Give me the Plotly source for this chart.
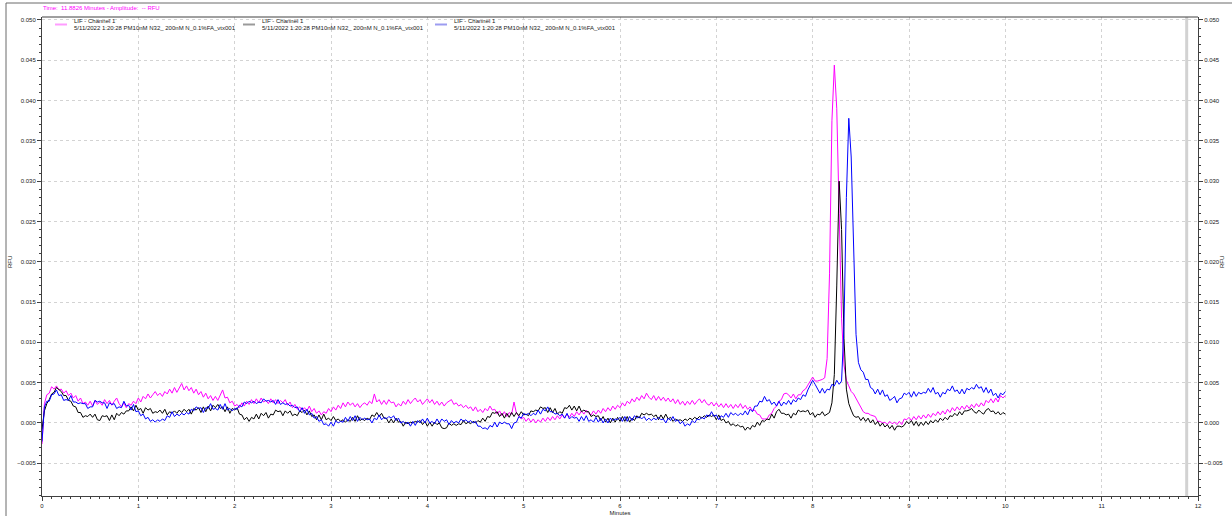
import numpy as np
import plotly.graph_objects as go

# Detector sampling: one reading every 0.025 min, 0 to 10 min
SAMPLE_STEP_MIN = 0.025
minutes = np.round(np.arange(401) * SAMPLE_STEP_MIN, 3)

# LIF - Channel 1 traces, values in milli-RFU (20 readings per row = 0.5 min)
magenta_mrfu = [
    -2.6, 2.4, 3.5, 3.7, 4.5, 4.2, 4.6, 4.1, 4.2, 3.7, 4.0, 3.4, 3.7, 3.1, 3.4, 2.7, 3.1, 2.4, 2.6, 2.2,
    2.7, 2.1, 2.8, 2.3, 2.6, 2.2, 2.9, 2.4, 2.8, 2.2, 2.7, 3.1, 2.4, 2.0, 2.5, 1.9, 2.4, 2.2, 2.7, 2.4,
    3.1, 2.6, 3.3, 3.0, 3.6, 3.1, 3.5, 3.9, 3.4, 3.7, 3.3, 3.9, 3.6, 4.2, 3.7, 4.4, 3.8, 4.3, 4.9, 4.1,
    4.6, 4.0, 4.4, 3.7, 4.2, 3.5, 3.9, 3.2, 3.7, 3.0, 3.4, 2.8, 3.3, 2.8, 3.4, 4.1, 3.1, 3.2, 2.5, 2.7,
    2.1, 2.3, 1.9, 2.5, 2.1, 2.7, 2.3, 2.9, 2.4, 3.0, 2.5, 3.1, 2.6, 2.8, 2.4, 3.0, 2.5, 2.9, 2.4, 2.8,
    2.5, 2.9, 2.2, 2.6, 1.9, 2.3, 1.7, 2.0, 1.6, 1.9, 1.5, 2.1, 1.4, 1.8, 1.2, 1.5, 1.0, 1.4, 1.2, 1.8,
    1.4, 2.0, 1.6, 2.2, 1.8, 2.5, 2.0, 2.6, 2.2, 2.5, 2.0, 2.4, 1.9, 2.3, 2.5, 2.2, 2.7, 2.4, 3.6, 2.6,
    2.9, 2.3, 2.8, 2.3, 2.9, 2.5, 2.6, 2.0, 2.4, 2.1, 2.7, 2.3, 2.9, 2.4, 2.8, 3.1, 2.6, 2.9, 2.3, 2.7,
    3.0, 2.5, 2.9, 2.3, 2.7, 2.2, 2.6, 2.1, 2.5, 2.7, 2.9, 2.3, 2.5, 2.1, 2.3, 1.9, 2.2, 1.8, 2.0, 1.5,
    2.0, 1.4, 1.7, 1.3, 1.8, 1.5, 2.1, 1.6, 1.7, 1.1, 1.5, 0.9, 1.4, 0.8, 1.3, 1.1, 2.6, 1.2, 0.9, 0.5,
    0.7, 0.2, 0.6, 0.1, 0.5, 0.0, 0.4, 0.1, 0.6, 0.2, 0.7, 0.3, 0.8, 0.4, 0.9, 0.5, 1.0, 0.6, 1.1, 0.7,
    1.2, 0.8, 1.4, 1.0, 1.5, 1.1, 1.6, 1.2, 1.0, 1.5, 1.1, 1.6, 1.2, 1.8, 1.4, 1.9, 1.5, 2.1, 1.7, 2.2,
    1.9, 2.5, 2.1, 2.7, 2.4, 3.0, 2.6, 3.2, 2.8, 3.4, 3.0, 3.7, 3.2, 2.9, 3.4, 2.8, 3.3, 2.8, 3.2, 2.7,
    3.1, 2.6, 3.0, 2.4, 2.9, 2.3, 2.7, 2.2, 2.7, 2.3, 2.8, 2.3, 2.7, 3.0, 2.5, 2.9, 2.4, 2.2, 2.6, 2.1,
    2.5, 2.0, 2.4, 1.9, 2.4, 1.9, 2.3, 1.8, 2.3, 1.9, 2.4, 1.8, 2.2, 1.7, 2.0, 1.5, 1.6, 1.1, 1.0, 0.5,
    0.5, 0.5, 1.0, 1.2, 1.8, 2.1, 2.7, 2.9, 3.6, 3.7, 3.5, 3.1, 3.6, 3.0, 3.5, 3.5, 4.0, 4.2, 4.7, 5.2,
    5.7, 5.2, 5.2, 5.3, 5.4, 5.6, 8.0, 18.5, 37.5, 44.4, 39.0, 26.0, 13.0, 7.2, 5.3, 4.6, 3.9, 3.6, 3.0, 2.6,
    2.0, 1.4, 1.2, 1.2, 1.0, 0.9, 0.8, 0.2, 0.2, 0.0, 0.1, -0.2, 0.2, -0.1, 0.1, -0.2, 0.2, -0.2, 0.5, 0.4,
    0.7, 0.3, 0.8, 0.4, 0.9, 0.5, 1.0, 0.6, 1.1, 0.7, 1.2, 0.9, 1.4, 1.0, 1.5, 1.1, 1.7, 1.3, 1.9, 1.5,
    2.0, 1.6, 2.1, 1.7, 2.2, 1.8, 2.3, 1.9, 2.4, 2.0, 2.5, 2.1, 2.8, 2.5, 3.0, 2.5, 3.1, 2.6, 3.4, 3.1,
    3.4,
]

black_mrfu = [
    -0.8, 1.5, 2.4, 2.9, 3.6, 3.8, 4.4, 4.2, 3.9, 3.4, 3.4, 2.8, 2.7, 2.1, 2.0, 1.3, 1.3, 0.7, 0.9, 0.8,
    1.1, 0.7, 1.1, 0.4, 0.3, 0.9, 0.8, 0.9, 0.3, 1.0, 0.4, 1.2, 0.9, 1.3, 1.1, 1.5, 1.5, 2.0, 1.5, 2.2,
    1.6, 1.8, 1.2, 1.9, 1.6, 1.8, 1.2, 1.4, 1.3, 1.6, 1.2, 1.7, 1.0, 1.4, 1.2, 1.5, 1.2, 1.6, 1.3, 1.7,
    1.4, 1.7, 1.1, 1.8, 1.6, 1.9, 1.3, 2.0, 1.4, 2.1, 1.5, 2.2, 1.9, 2.3, 1.8, 2.0, 1.4, 2.0, 1.2, 1.8,
    1.6, 1.9, 1.1, 1.0, 0.4, 0.7, 0.2, 0.7, 0.5, 1.1, 0.5, 1.2, 0.9, 1.3, 0.6, 1.1, 1.0, 1.6, 1.4, 1.5,
    0.9, 1.5, 1.2, 1.5, 0.9, 1.1, 0.9, 1.5, 1.3, 1.6, 1.0, 1.5, 0.8, 1.0, 0.4, 1.0, 0.4, 1.1, 0.4, 0.6,
    0.3, 0.8, 0.3, 0.5, 0.2, 0.4, 0.1, 0.4, 0.2, 0.7, 0.2, 0.9, 0.3, 0.5, 0.3, 0.6, 0.4, 1.0, 0.8, 1.3,
    0.8, 1.2, 0.6, 0.6, 0.0, 0.5, 0.0, 0.6, 0.1, 0.2, -0.4, 0.1, -0.1, 0.1, 0.0, 0.2, 0.1, 0.3, -0.2, 0.2,
    -0.4, 0.1, -0.4, 0.1, -0.2, 0.0, -0.6, -0.7, -0.6, 0.0, -0.3, -0.1, -0.3, -0.1, -0.2, 0.3, -0.1, 0.1, -0.1, 0.2,
    0.0, 0.3, 0.1, 0.6, 0.2, 0.8, 0.7, 1.3, 1.2, 1.4, 0.8, 1.2, 0.6, 1.2, 0.7, 1.3, 0.8, 1.3, 0.9, 1.4,
    1.0, 1.1, 0.9, 1.5, 1.4, 1.6, 1.5, 2.0, 1.8, 1.9, 1.3, 1.9, 1.3, 1.8, 1.1, 1.4, 1.2, 1.9, 1.8, 2.2,
    1.6, 2.1, 1.5, 2.1, 1.4, 1.6, 1.4, 1.4, 0.8, 1.0, 0.8, 0.9, 0.3, 0.8, 0.1, 0.6, 0.0, 0.6, 0.1, 0.7,
    0.2, 0.8, 0.2, 0.8, 0.1, 0.6, 0.3, 0.9, 0.6, 1.2, 1.0, 1.2, 1.0, 1.1, 0.8, 1.0, 0.4, 1.0, 0.5, 1.1,
    0.5, 0.7, 0.2, 0.5, 0.3, 0.4, 0.2, 0.5, 0.3, 0.6, 0.4, 0.7, 0.5, 0.8, 0.6, 0.9, 0.7, 1.0, 0.8, 1.0,
    0.4, 1.0, 0.3, 0.5, 0.0, 0.2, -0.3, -0.1, -0.4, -0.2, -0.5, -0.4, -0.9, -0.5, -0.8, -0.3, -0.5, 0.1, -0.3, 0.3,
    0.2, 0.5, 0.4, 1.1, 0.6, 1.4, 1.7, 1.2, 1.2, 1.0, 1.1, 0.6, 1.2, 1.0, 1.6, 1.4, 1.5, 1.4, 1.6, 1.0,
    1.3, 0.7, 1.1, 1.0, 1.4, 0.9, 1.1, 1.3, 2.5, 6.0, 17.0, 30.0, 24.0, 10.5, 4.2, 2.4, 1.6, 0.9, 0.7, 0.8,
    0.3, 0.7, 0.2, 0.6, 0.0, 0.4, -0.2, 0.2, -0.4, 0.0, -0.5, -0.2, -0.7, -0.3, -0.9, -0.4, -0.4, -0.5, -0.3, 0.2,
    -0.1, 0.3, -0.3, 0.2, -0.4, 0.1, -0.3, 0.2, -0.2, 0.3, 0.0, 0.4, 0.1, 0.6, 0.3, 0.7, 0.4, 0.9, 0.8, 1.2,
    0.9, 1.4, 1.0, 1.5, 1.5, 1.6, 1.8, 1.4, 1.2, 1.6, 1.3, 1.1, 1.6, 1.8, 1.4, 1.5, 1.1, 1.4, 1.0, 1.3,
    1.1,
]

blue_mrfu = [
    -2.3, 2.0, 2.7, 2.7, 3.5, 3.6, 4.1, 3.4, 3.5, 2.8, 2.9, 2.8, 3.4, 2.6, 2.6, 2.4, 2.5, 2.4, 2.4, 1.8,
    2.0, 2.0, 2.8, 2.6, 2.7, 2.5, 2.5, 1.8, 2.5, 2.3, 2.4, 1.8, 2.0, 1.9, 2.7, 2.1, 2.2, 1.6, 2.3, 1.4,
    1.5, 0.9, 1.1, 0.5, 0.7, 0.2, 0.4, 0.1, 0.4, 0.2, 0.5, 0.3, 0.9, 0.7, 1.4, 0.8, 1.1, 0.9, 1.2, 1.0,
    1.3, 1.1, 1.7, 1.5, 2.0, 1.8, 1.9, 1.3, 1.9, 1.8, 2.4, 1.7, 1.8, 1.6, 2.3, 1.7, 2.4, 1.6, 1.8, 1.5,
    1.8, 1.7, 2.2, 2.0, 2.6, 2.4, 2.7, 2.5, 2.7, 2.4, 2.6, 2.5, 3.0, 2.7, 2.8, 2.6, 2.8, 2.3, 2.9, 2.3,
    2.5, 2.3, 2.4, 2.1, 2.2, 1.9, 2.0, 1.4, 1.9, 1.2, 1.7, 1.0, 1.2, 0.6, 0.8, 0.2, 0.4, -0.2, -0.1, -0.4,
    0.1, -0.4, 0.3, 0.0, 0.2, 0.1, 0.7, 0.2, 0.8, 0.3, 0.9, 0.2, 0.7, 0.4, 0.6, 0.4, 0.5, 0.0, 0.6, 0.4,
    1.0, 0.4, 0.7, 0.5, 0.8, 0.6, 0.9, 0.3, 0.6, 0.0, 0.2, -0.1, 0.1, -0.4, 0.2, -0.3, 0.3, 0.0, 0.5, 0.0,
    0.6, 0.0, 0.2, -0.1, 0.5, 0.0, 0.5, 0.2, 0.4, -0.2, 0.3, 0.0, 0.2, 0.0, 0.5, 0.2, 0.4, 0.1, 0.3, 0.0,
    0.2, -0.4, -0.4, -0.7, -0.6, -0.8, -0.3, -0.5, 0.1, -0.5, 0.1, -0.1, 0.1, -0.1, -0.1, -0.7, 0.0, 0.1, 0.8, 0.6,
    1.2, 1.0, 1.2, 0.9, 1.2, 1.0, 1.6, 1.1, 1.7, 1.5, 2.0, 1.4, 1.4, 1.1, 1.2, 0.9, 1.1, 0.6, 1.2, 0.5,
    0.8, 0.6, 0.7, 0.2, 0.8, 0.3, 0.9, 0.2, 0.4, 0.1, 0.7, 0.1, 0.6, 0.0, 0.5, 0.0, 0.6, 0.3, 0.5, 0.4,
    0.7, 0.2, 0.8, 0.2, 0.8, 0.3, 0.9, 0.6, 0.8, 0.5, 0.8, 0.3, 0.6, 0.3, 0.6, 0.4, 0.7, 0.4, 0.5, 0.0,
    0.6, 0.3, 0.8, 0.2, 0.4, -0.1, 0.2, -0.4, -0.1, -0.3, 0.3, 0.0, 0.5, 0.4, 0.7, 0.5, 1.0, 0.8, 1.4, 0.8,
    1.0, 0.4, 0.9, 0.7, 1.2, 0.7, 1.3, 1.0, 1.2, 0.9, 1.2, 1.0, 1.5, 1.0, 1.7, 1.4, 2.1, 2.1, 2.7, 2.6,
    3.3, 2.7, 2.9, 2.3, 2.6, 2.1, 2.7, 2.1, 2.6, 2.3, 2.8, 2.3, 2.9, 2.6, 3.1, 2.9, 3.5, 3.3, 4.1, 4.8,
    5.3, 4.8, 4.3, 3.7, 4.3, 3.7, 4.2, 4.1, 4.8, 4.6, 5.3, 4.8, 5.2, 12.0, 28.0, 37.8, 33.0, 21.0, 11.0, 7.5,
    6.6, 6.3, 5.4, 5.4, 4.4, 4.2, 3.6, 4.2, 3.5, 4.1, 3.3, 3.5, 2.8, 3.0, 3.3, 2.5, 3.0, 3.1, 3.7, 3.5,
    3.8, 3.2, 3.9, 3.3, 3.8, 3.6, 3.8, 3.7, 4.3, 3.8, 4.4, 3.6, 3.8, 3.2, 3.8, 3.6, 4.2, 4.0, 4.6, 3.9,
    4.1, 3.6, 4.2, 3.6, 4.3, 4.1, 4.4, 4.2, 4.8, 4.3, 4.5, 3.8, 4.4, 3.7, 4.2, 3.4, 3.7, 3.1, 3.7, 3.5,
    3.9,
]

series_names = ["LIF - Channel 1", "LIF - Channel 1", "LIF - Channel 1"]
run_label = "5/11/2022 1:20:28 PM10nM N32_ 200nM N_0.1%FA_vtx001"
series_colors = ["#ff00ff", "#000000", "#0000ff"]
legend_swatch_colors = ["#ff9cff", "#9a9a9a", "#9c9cf0"]
series_values = [magenta_mrfu, black_mrfu, blue_mrfu]
# the last run is drawn against the right-hand RFU axis (same scale as the left one)
series_yaxis = ["y", "y", "y2"]

cursor_time = 11.8826
header_text = "Time:  11.8826 Minutes - Amplitude:  -- RFU"

x_range = [0, 12]
y_range = [-0.00906, 0.05037]

FONT = "Liberation Sans, Arial, sans-serif"
GRID = "#d3d3d3"
AXIS = "#404040"
TEXT = "#202020"

fig = go.Figure()
for vals, color, name, yax in zip(series_values, series_colors, series_names, series_yaxis):
    fig.add_trace(go.Scatter(
        x=minutes, y=np.array(vals) / 1000.0, mode="lines", name=name, yaxis=yax,
        line=dict(color=color, width=1), showlegend=False, hoverinfo="skip",
    ))

# Plot-area geometry in pixels, used to place the decorations around it
W, H = 1232, 520
ML, MR, MT, MB = 42, 34, 17, 24
PW, PH = W - ML - MR, H - MT - MB


def px_x(px):
    return (px - ML) / PW


def px_y(py):
    return (H - MB - py) / PH


shapes = [
    # cursor position line
    dict(type="line", xref="x", yref="paper", x0=cursor_time, x1=cursor_time, y0=0, y1=1,
         line=dict(color="#d2d2d2", width=3), layer="below"),
    # window frame (top and left edges)
    dict(type="line", xref="paper", yref="paper", x0=px_x(6), x1=px_x(1232), y0=px_y(3), y1=px_y(3),
         line=dict(color="#6a6a6a", width=1)),
    dict(type="line", xref="paper", yref="paper", x0=px_x(6), x1=px_x(6), y0=px_y(3), y1=px_y(516),
         line=dict(color="#6a6a6a", width=1)),
    # top edge of plot box
    dict(type="line", xref="paper", yref="paper", x0=0, x1=1, y0=1, y1=1,
         line=dict(color=AXIS, width=1)),
]

annotations = [
    dict(text=header_text, xref="paper", yref="paper", x=px_x(41), y=px_y(8.5),
         xanchor="left", yanchor="middle", showarrow=False,
         font=dict(family=FONT, size=6, color="#ff00ff")),
    dict(text="RFU", xref="paper", yref="paper", x=px_x(10), y=px_y(262), textangle=-90,
         xanchor="center", yanchor="middle", showarrow=False,
         font=dict(family=FONT, size=6, color=TEXT)),
    dict(text="RFU", xref="paper", yref="paper", x=px_x(1222), y=px_y(262), textangle=-90,
         xanchor="center", yanchor="middle", showarrow=False,
         font=dict(family=FONT, size=6, color=TEXT)),
]

legend_x = [55, 243, 435]
for lx, swatch, name in zip(legend_x, legend_swatch_colors, series_names):
    shapes.append(dict(type="line", xref="paper", yref="paper",
                       x0=px_x(lx), x1=px_x(lx + 12), y0=px_y(24.5), y1=px_y(24.5),
                       line=dict(color=swatch, width=2)))
    annotations.append(dict(text=name, xref="paper", yref="paper", x=px_x(lx + 17), y=px_y(20.7),
                            xanchor="left", yanchor="middle", showarrow=False,
                            font=dict(family=FONT, size=6, color=TEXT)))
    annotations.append(dict(text=run_label, xref="paper", yref="paper", x=px_x(lx + 17), y=px_y(28.3),
                            xanchor="left", yanchor="middle", showarrow=False,
                            font=dict(family=FONT, size=6, color=TEXT)))

tick_font = dict(family=FONT, size=6, color=TEXT)
yaxis_common = dict(
    range=y_range, dtick=0.005, tick0=0, tickformat=".3f",
    ticks="outside", ticklen=4, tickwidth=1, tickcolor=AXIS,
    minor=dict(dtick=0.001, ticks="outside", ticklen=2, tickcolor=AXIS, showgrid=False),
    showline=True, linecolor=AXIS, linewidth=1,
    zeroline=False, tickfont=tick_font, automargin=False,
)

fig.update_layout(
    width=W, height=H,
    margin=dict(l=ML, r=MR, t=MT, b=MB),
    paper_bgcolor="white", plot_bgcolor="white",
    showlegend=False,
    xaxis=dict(
        range=x_range, dtick=1, tick0=0,
        ticks="outside", ticklen=4, tickwidth=1, tickcolor=AXIS,
        minor=dict(dtick=0.1, ticks="outside", ticklen=2, tickcolor=AXIS, showgrid=False),
        showline=True, linecolor=AXIS, linewidth=1,
        showgrid=True, gridcolor=GRID, griddash="3px,3px", gridwidth=1,
        zeroline=False, tickfont=tick_font, automargin=False,
        title=dict(text="Minutes", font=dict(family=FONT, size=6, color=TEXT), standoff=2),
    ),
    yaxis=dict(**yaxis_common, side="left",
               showgrid=True, gridcolor=GRID, griddash="3px,3px", gridwidth=1),
    yaxis2=dict(**yaxis_common, side="right", overlaying="y", anchor="x", showgrid=False),
    shapes=shapes,
    annotations=annotations,
)

fig.write_html("out.html")
